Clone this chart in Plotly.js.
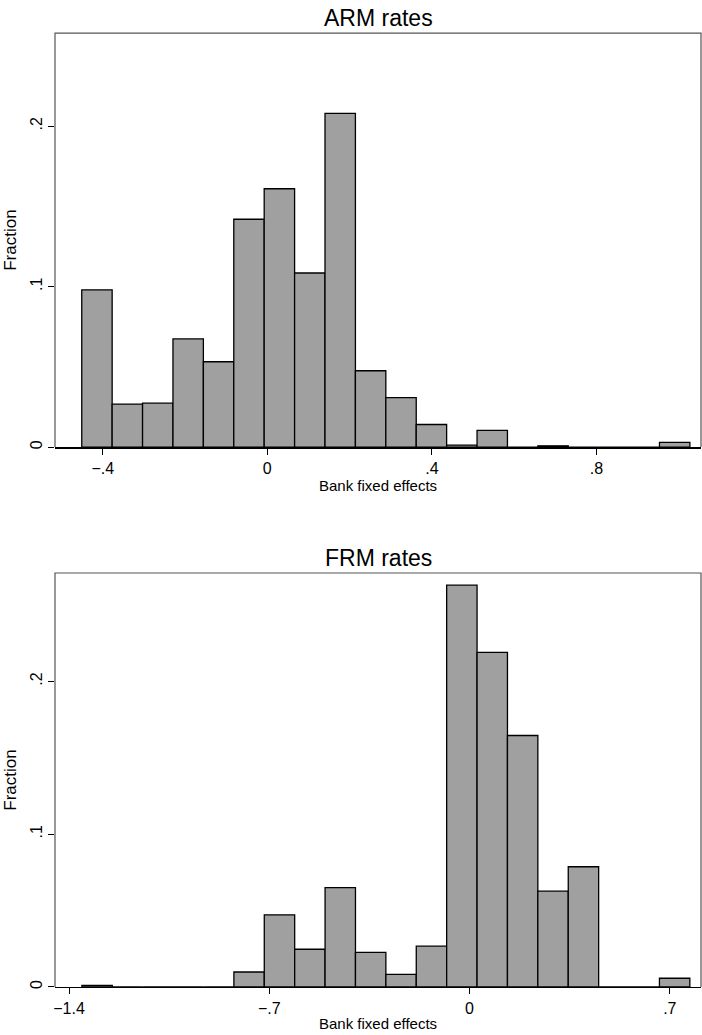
<!DOCTYPE html>
<html>
<head>
<meta charset="utf-8">
<script src="https://cdn.plot.ly/plotly-3.0.1.min.js"></script>
<style>body{margin:0;background:#fff}#chart{width:702px;height:1035px}</style>
</head>
<body>
<div id="chart"></div>
<script>
// ARM histogram: 20 bins
var armStart = -0.451;
var armWidth = 0.0739;
var armFrac = [0.098, 0.0268, 0.0274, 0.0674, 0.0532, 0.142, 0.161, 0.1085, 0.208, 0.0476,
               0.0308, 0.0141, 0.0012, 0.0104, 0, 0.0008, 0, 0, 0, 0.0029];
var armTickVals = [-0.4, 0, 0.4, 0.8];
var armTickText = ["\u2212.4", "0", ".4", ".8"];

// FRM histogram: 20 bins
var frmStart = -1.355;
var frmWidth = 0.10625;
var frmFrac = [0.001, 0, 0, 0, 0, 0.0098, 0.0472, 0.0247, 0.0651, 0.0227,
               0.0083, 0.0267, 0.263, 0.219, 0.1646, 0.0627, 0.0787, 0, 0, 0.0057];
var frmTickVals = [-1.4, -0.7, 0, 0.7];
var frmTickText = ["\u22121.4", "\u2212.7", "0", ".7"];

var yTickVals = [0, 0.1, 0.2];
var yTickText = ["0", ".1", ".2"];

function centers(start, width, n) {
  var out = [];
  for (var i = 0; i < n; i++) out.push(start + width * (i + 0.5));
  return out;
}

var barStyle = { color: "#a0a0a0", line: { color: "#000", width: 1.3 } };
var font = { family: "Liberation Sans, Arial, sans-serif", color: "#000" };

var traces = [
  { type: "bar", x: centers(armStart, armWidth, armFrac.length), y: armFrac, width: armWidth,
    marker: barStyle, xaxis: "x", yaxis: "y", hoverinfo: "x+y" },
  { type: "bar", x: centers(frmStart, frmWidth, frmFrac.length), y: frmFrac, width: frmWidth,
    marker: barStyle, xaxis: "x2", yaxis: "y2", hoverinfo: "x+y" }
];

function xAx(range, vals, text, anchor) {
  return {
    range: range, anchor: anchor, tickvals: vals, ticktext: text,
    ticks: "outside", ticklen: 6, tickcolor: "#000", showgrid: false, zeroline: false,
    showline: true, linecolor: "#000", linewidth: 1.5,
    tickfont: { size: 16 },
    title: { text: "Bank fixed effects", font: { size: 15 }, standoff: 3 }
  };
}
function yAx(range, domain, anchor) {
  return {
    range: range, domain: domain, anchor: anchor, tickvals: yTickVals, ticktext: yTickText,
    tickangle: -90, ticks: "outside", ticklen: 6, tickcolor: "#000", showgrid: false, zeroline: false,
    showline: false,
    tickfont: { size: 16 },
    title: { text: "Fraction", font: { size: 17 }, standoff: 6 }
  };
}
function frame(xr, yr) {
  return { type: "path", xref: xr + " domain", yref: yr + " domain",
           path: "M 0,0 L 0,1 L 1,1 L 1,0", line: { color: "#555", width: 1.2 } };
}

var layout = {
  width: 702, height: 1035,
  margin: { l: 55, r: 1, t: 0, b: 0 },
  paper_bgcolor: "#fff", plot_bgcolor: "#fff",
  font: font, showlegend: false, bargap: 0,
  xaxis: xAx([-0.516, 1.054], armTickVals, armTickText, "y"),
  yaxis: yAx([0, 0.258], [0.568, 0.968], "x"),
  xaxis2: xAx([-1.449, 0.809], frmTickVals, frmTickText, "y2"),
  yaxis2: yAx([0, 0.271], [0.0464, 0.4464], "x2"),
  shapes: [frame("x", "y"), frame("x2", "y2")],
  annotations: [
    { text: "ARM rates", xref: "paper", yref: "paper", x: 0.5, y: 0.968, yanchor: "bottom",
      yshift: 0, showarrow: false, font: { size: 23 } },
    { text: "FRM rates", xref: "paper", yref: "paper", x: 0.5, y: 0.4464, yanchor: "bottom",
      yshift: 0, showarrow: false, font: { size: 23 } }
  ]
};

Plotly.newPlot("chart", traces, layout, { displayModeBar: false, staticPlot: true });
</script>
</body>
</html>
